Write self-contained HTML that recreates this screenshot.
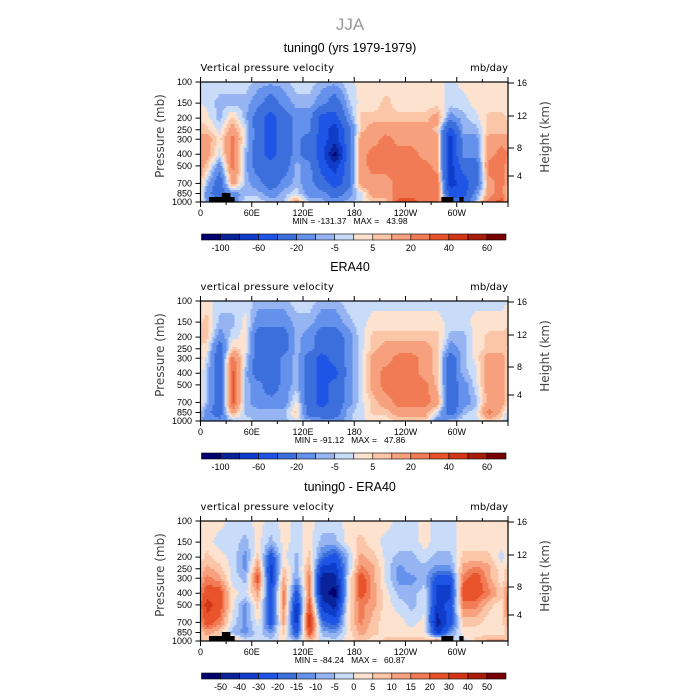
<!DOCTYPE html>
<html><head><meta charset="utf-8"><style>
html,body{margin:0;padding:0;background:#fff;}
svg{display:block;font-family:"Liberation Sans",sans-serif;}
.pre{white-space:pre;}
</style></head><body>
<svg id="chart" width="700" height="700" viewBox="0 0 700 700" xmlns="http://www.w3.org/2000/svg">
<text x="350" y="30" text-anchor="middle" font-size="17" fill="#999">JJA</text>
</svg>
<script>
const levels = [100,150,200,250,300,400,500,700,850,1000];
const lonCenters = [7.5,22.5,37.5,52.5,67.5,82.5,97.5,112.5,127.5,142.5,157.5,172.5,187.5,202.5,217.5,232.5,247.5,262.5,277.5,292.5,307.5,322.5,337.5,352.5];
const xTickLabels = ["0","60E","120E","180","120W","60W"];
const xTickLons = [0,60,120,180,240,300];
const pTicks = [100,150,200,250,300,400,500,700,850,1000];
const heightTicks = ["16","12","8","4"];
const heightTickY = [83,116,148,176];
const boundsA = [-100,-80,-60,-40,-20,-10,-5,0,5,10,20,30,40,50,60];
const boundsD = [-50,-40,-30,-20,-15,-10,-5,0,5,10,15,20,30,40,50];
const cbLabelsA = ["-100","-60","-20","-5","5","20","40","60"];
const cbLabelIdxA = [0,2,4,6,8,10,12,14];
const cbLabelsD = ["-50","-40","-30","-20","-15","-10","-5","0","5","10","15","20","30","40","50"];
const cbLabelIdxD = [0,1,2,3,4,5,6,7,8,9,10,11,12,13,14];
const palette = ["#00006e","#0a239b","#0f3cc8","#1e55e6","#3c6edc","#6491eb","#96b4f2","#c8dcfa","#fde3cf","#fbc6a8","#f6a07e","#f07b54","#e8532c","#d23616","#a81c0a","#780000"];
const p1Data = [
[-2,-2,2,7,15,15,7,-7,-15,-15],
[-2,-7,-7,-2,2,-2,-15,-30,-30,-15],
[-2,-7,7,15,25,25,25,15,-15,-15],
[-2,-7,-7,-2,-2,-7,-7,-7,-7,-2],
[-7,-15,-30,-30,-30,-30,-30,-15,-7,-2],
[-7,-30,-50,-50,-50,-50,-30,-30,-15,-7],
[-7,-15,-30,-30,-30,-30,-30,-15,-7,-7],
[-2,-7,-15,-15,-15,-15,-7,-7,-2,15],
[-2,-7,-15,-15,-30,-30,-15,-15,-15,-7],
[-7,-15,-50,-50,-50,-50,-50,-30,-15,-7],
[-7,-30,-50,-70,-70,-110,-70,-50,-30,-15],
[-2,-7,-15,-30,-30,-30,-30,-30,-15,-7],
[2,2,7,7,15,15,15,15,-2,-2],
[2,2,7,15,15,25,25,15,15,7],
[2,7,7,15,25,25,25,15,15,7],
[2,2,7,15,15,25,25,25,25,35],
[2,2,7,15,15,25,25,25,25,35],
[2,2,7,15,15,15,25,25,25,25],
[2,2,15,7,15,15,15,25,25,25],
[-2,-2,-15,-50,-70,-70,-70,-70,-50,-30],
[2,-2,-7,-7,-15,-15,-30,-50,-50,-30],
[2,2,-2,-7,-15,-15,-30,-30,-15,-7],
[2,2,7,7,15,15,25,15,15,25],
[2,2,7,7,15,25,25,25,25,35]];
const p2Data = [
[2,7,7,2,-2,-7,-7,-7,-15,-15],
[-2,-7,-15,-30,-30,-30,-30,-30,-30,-15],
[-2,-7,-2,7,25,35,35,35,15,-7],
[-2,2,2,2,-2,-7,-7,-7,-7,-2],
[-7,-15,-30,-30,-30,-30,-15,-15,-7,-7],
[-7,-15,-30,-30,-30,-30,-30,-15,-7,-7],
[-7,-15,-30,-30,-15,-15,-15,-15,-7,-7],
[-2,-7,-7,-7,-7,-7,-7,2,7,-2],
[-2,-7,-15,-15,-30,-30,-30,-30,-30,-7],
[-7,-15,-30,-30,-50,-50,-50,-50,-30,-15],
[-7,-15,-30,-30,-30,-50,-30,-30,-30,-15],
[-2,-7,-15,-15,-15,-15,-15,-15,-7,-7],
[-2,-2,-2,-2,-2,-2,-2,-2,-2,-2],
[-2,2,7,7,15,15,15,7,7,2],
[-2,2,7,15,15,25,25,15,7,2],
[-2,2,7,15,25,25,25,25,15,7],
[-2,2,7,15,25,25,25,25,15,7],
[-2,2,7,15,15,15,25,25,15,7],
[-2,2,7,7,7,7,7,15,-2,-15],
[-2,-2,-7,-15,-30,-30,-30,-30,-30,-7],
[-2,-2,-7,-7,-7,-7,-15,-15,-7,-2],
[-2,2,2,2,2,-2,-2,-7,-2,-2],
[-2,2,7,7,15,15,15,15,25,7],
[-2,2,7,7,15,15,15,15,7,2]];
const p3Data = [
[2,2,7,12,17,25,35,25,12,7],
[2,-2,2,7,12,25,25,17,7,2],
[-2,-2,-2,-2,-2,2,2,-2,-7,12],
[-2,-7,-12,-12,-7,-2,-12,-12,-12,-2],
[2,2,7,17,25,12,7,2,-2,-2],
[-2,-7,-25,-35,-35,-25,-25,-25,-12,-2],
[2,2,2,7,12,17,17,12,7,2],
[-2,-2,-7,-7,-12,-25,-35,-35,-25,-7],
[2,2,7,12,17,17,25,35,25,7],
[-2,-7,-17,-35,-45,-45,-35,-17,-7,-2],
[-2,-7,-25,-35,-45,-55,-45,-25,-12,-2],
[2,2,-7,-7,-2,-2,2,2,2,2],
[2,7,12,17,25,25,17,17,12,7],
[2,2,7,12,12,12,12,7,7,2],
[2,-2,-2,-2,-2,2,2,2,2,7],
[-2,-2,-7,-12,-12,-7,-2,2,2,7],
[-2,-2,-7,-7,-12,-7,-7,-2,2,7],
[2,2,-2,-7,-7,-2,-2,2,2,7],
[-2,-2,-7,-12,-25,-35,-35,-45,-35,17],
[-2,-2,-7,-12,-25,-35,-25,-25,-12,-2],
[2,2,7,12,17,25,17,7,2,-2],
[2,2,7,17,25,25,17,7,2,7],
[2,2,7,12,12,17,7,2,2,12],
[2,2,-2,2,2,7,2,2,2,12]];
const panelTitles = ["tuning0 (yrs 1979-1979)","ERA40","tuning0 - ERA40"];
const minMax = ["MIN = -131.37   MAX =   43.98","MIN = -91.12   MAX =   47.86","MIN = -84.24   MAX =   60.87"];
const panelTops = [82,301,521];

const NS="http://www.w3.org/2000/svg";
const svg=document.getElementById('chart');
const X0=200.5, X1=508;
function xs(lon){return X0+(X1-X0)*lon/360;}
function mk(tag,attrs,parent){const e=document.createElementNS(NS,tag);for(const k in attrs)e.setAttribute(k,attrs[k]);(parent||svg).appendChild(e);return e;}
function colorFor(v,b){let i=0;while(i<b.length&&v>=b[i])i++;return palette[i];}
// bilinear sample of the data grid (lon periodic, log-pressure clamped)
function sample(data,lon,lp){
  const n=lonCenters.length;
  let fx=(lon-lonCenters[0])/15; let i0=Math.floor(fx); const tx=fx-i0;
  const a=((i0%n)+n)%n, b=(((i0+1)%n)+n)%n;
  const lg=levels.map(p=>Math.log10(p));
  let j=0; while(j<lg.length-2 && lp>lg[j+1]) j++;
  let ty=(lp-lg[j])/(lg[j+1]-lg[j]); ty=Math.max(0,Math.min(1,ty));
  const v00=data[a][j],v01=data[a][j+1],v10=data[b][j],v11=data[b][j+1];
  return (v00*(1-ty)+v01*ty)*(1-tx)+(v10*(1-ty)+v11*ty)*tx;
}

function drawPanel(k,data,bounds,cbLabels,cbIdx,ground){
  const top=panelTops[k], H=120;
  const ys=p=>top+H*Math.log10(p/100);
  const g=mk('g',{});
  
  
  const t=mk('text',{x:350,y:top-30,'text-anchor':'middle','font-size':12.5,fill:'#000'},g);
  t.textContent=panelTitles[k];
  
  
  const l=mk('text',{x:X0,y:top-11,'font-size':10,fill:'#000','font-family':'DejaVu Sans, sans-serif','letter-spacing':'0.3'},g);
  l.textContent=(k==0?"Vertical":"vertical")+" pressure velocity";
  
  
  const u=mk('text',{x:X1,y:top-11,'font-size':10,'text-anchor':'end',fill:'#000','font-family':'DejaVu Sans, sans-serif'},g);
  u.textContent="mb/day";
  
  
  const field=mk('g',{'shape-rendering':'crispEdges'},g);
  
  
  const step=2;
  for(let px=X0;px<X1;px+=step){
    const w=Math.min(step,X1-px);
    const lon=(px+w/2-X0)/(X1-X0)*360;
    let runStart=top, runCol=null;
    for(let py=top;py<=top+H;py+=step){
      let col=null;
      if(py<top+H){
        const lp=2+(py+step/2-top)/H;
        col=colorFor(sample(data,lon,lp),bounds);
      }
      if(col!==runCol){
        if(runCol!==null){
          const cell=mk('rect',{x:px,y:runStart,width:w+0.4,height:Math.min(py,top+H)-runStart+0.4,fill:runCol},field);
          
          
        }
        runStart=py; runCol=col;
      }
    }
  }
  if(ground){
    [[10,40,197],[25,35,193],[282,296,197],[303,308,197]].forEach(q=>{
      const gr=mk('rect',{x:xs(q[0]),y:top+(q[2]-82),width:xs(q[1])-xs(q[0]),height:H-(q[2]-82),fill:'#000'},g);
      
      
    });
  }
  const fr=mk('rect',{x:X0,y:top,width:X1-X0,height:H,fill:'none',stroke:'#000','stroke-width':1.2},g);
  
  
  for(let lon=0;lon<=360;lon+=30){
    const len=lon%60==0?5:3;
    mk('line',{x1:xs(lon),x2:xs(lon),y1:top,y2:top-len,stroke:'#000'},g);
    mk('line',{x1:xs(lon),x2:xs(lon),y1:top+H,y2:top+H+len,stroke:'#000'},g);
  }
  xTickLons.forEach((lon,i)=>{
    const tx=mk('text',{x:xs(lon),y:top+H+14,'text-anchor':'middle','font-size':9,fill:'#000'},g);
    tx.textContent=xTickLabels[i];
    
    
  });
  pTicks.forEach(p=>{
    mk('line',{x1:X0-5,x2:X0,y1:ys(p),y2:ys(p),stroke:'#000'},g);
    const ty=mk('text',{x:192,y:ys(p)+3,'text-anchor':'end','font-size':9,fill:'#000'},g);
    ty.textContent=p;
    
    
  });
  heightTicks.forEach((h,i)=>{
    const yy=top+(heightTickY[i]-82);
    mk('line',{x1:X1,x2:X1+6,y1:yy,y2:yy,stroke:'#000'},g);
    const th=mk('text',{x:517,y:yy+3,'font-size':9,fill:'#000'},g);
    th.textContent=h;
    
    
  });
  const ya=mk('text',{x:0,y:0,'font-size':12,fill:'#444','text-anchor':'middle','font-family':'DejaVu Sans, sans-serif',transform:'translate(164,'+(top+54)+') rotate(-90)'},g);
  ya.textContent="Pressure (mb)";
  
  
  const yb=mk('text',{x:0,y:0,'font-size':12,fill:'#444','text-anchor':'middle','font-family':'DejaVu Sans, sans-serif',transform:'translate(549,'+(top+55)+') rotate(-90)'},g);
  yb.textContent="Height (km)";
  
  
  const mm=mk('text',{x:350,y:top+H+22,'text-anchor':'middle','font-size':8.5,fill:'#000','class':'pre'},g);
  mm.textContent=minMax[k];
  
  
  const cy=top+H+32, cx0=201.5, cx1=506, n=palette.length, bw=(cx1-cx0)/n;
  palette.forEach((col,i)=>{
    const b=mk('rect',{x:cx0+i*bw,y:cy,width:bw,height:6,fill:col,stroke:'#000','stroke-width':0.6},g);
    
    
  });
  cbLabels.forEach((s,i)=>{
    const bx=cx0+(cbIdx[i]+1)*bw;
    const tl=mk('text',{x:bx,y:cy+17,'text-anchor':'middle','font-size':9,fill:'#000'},g);
    tl.textContent=s;
    
    
  });
}
drawPanel(0,p1Data,boundsA,cbLabelsA,cbLabelIdxA,true);
drawPanel(1,p2Data,boundsA,cbLabelsA,cbLabelIdxA,false);
drawPanel(2,p3Data,boundsD,cbLabelsD,cbLabelIdxD,true);
</script>
</body></html>
